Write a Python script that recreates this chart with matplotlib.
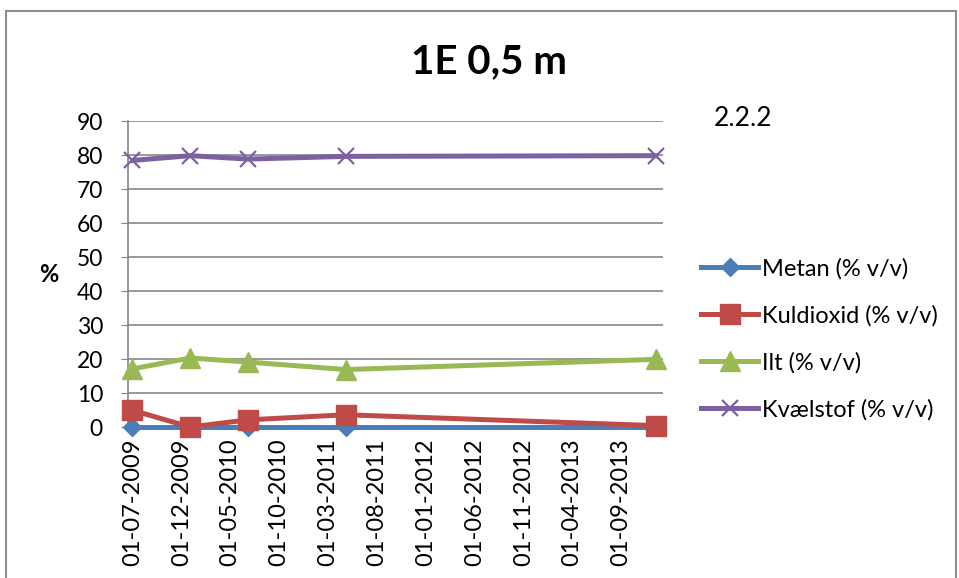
import matplotlib
matplotlib.use("Agg")
import matplotlib.pyplot as plt
import matplotlib.dates as mdates
from matplotlib.patches import Rectangle
import datetime as dt

plt.rcParams['font.family'] = ['Lato', 'DejaVu Sans']

# Sampling dates and gas concentrations (% v/v)
dates = [dt.date(2009, 7, 1), dt.date(2009, 12, 28), dt.date(2010, 6, 26),
         dt.date(2011, 4, 27), dt.date(2013, 12, 19)]
metan = [0.0, 0.0, 0.0, 0.0, 0.0]
kuldioxid = [4.9, 0.0, 2.1, 3.6, 0.4]
ilt = [17.1, 20.3, 19.1, 16.9, 19.9]
kvaelstof = [78.4, 79.8, 78.8, 79.6, 79.8]

series_names = ["Metan (% v/v)", "Kuldioxid (% v/v)", "Ilt (% v/v)", "Kvælstof (% v/v)"]
tick_dates = [dt.date(2009 + (6 + 5 * i) // 12, (6 + 5 * i) % 12 + 1, 1) for i in range(11)]
y_ticks = list(range(0, 100, 10))

title = "1E 0,5 m"
note = "2.2.2"

W, H = 959, 578
fig = plt.figure(figsize=(W / 100, H / 100), dpi=100)

# outer chart border
fig.patches.append(Rectangle((6 / W, -0.05), (956 - 6) / W, 1.05 - 11 / H,
                             transform=fig.transFigure, fill=False,
                             edgecolor='#8c8c8c', linewidth=1.5))

ax = fig.add_axes([128 / W, 1 - 427 / H, (663 - 128) / W, (427 - 121) / H])

styles = [
    dict(color='#4A7EBB', marker='D', markersize=9),
    dict(color='#BE4B48', marker='s', markersize=14),
    dict(color='#98B954', marker='^', markersize=15),
    dict(color='#7D60A0', marker='x', markersize=12, markeredgewidth=1.6),
]
for vals, name, st in zip([metan, kuldioxid, ilt, kvaelstof], series_names, styles):
    ax.plot(dates, vals, linewidth=3.6, label=name, clip_on=False, zorder=3, **st)

ax.set_ylim(0, 90)
ax.set_yticks(y_ticks)
ax.set_xlim(dt.date(2009, 6, 17), dt.date(2014, 1, 10))
ax.set_xticks(tick_dates)
ax.xaxis.set_major_formatter(mdates.DateFormatter('%d-%m-%Y'))
ax.tick_params(axis='x', rotation=90, labelsize=17, length=0, pad=8)
ax.tick_params(axis='y', labelsize=16.5, length=5, color='#868686', pad=13)

ax.grid(axis='y', color='#868686', linewidth=1.2)
ax.set_axisbelow(True)
for s in ['top', 'right', 'bottom']:
    ax.spines[s].set_visible(False)
ax.spines['left'].set_color('#868686')
ax.spines['left'].set_linewidth(1.2)

ax.set_ylabel('%', fontsize=17, fontweight='bold', rotation=0, labelpad=20, va='center')

fig.text(489 / W, 1 - 62 / H, title, fontsize=29, fontweight='bold', ha='center', va='center')
fig.text(743 / W, 1 - 118 / H, note, fontsize=19, ha='center', va='center')

ax.legend(loc='center left', bbox_to_anchor=(692 / W, 1 - 339 / H),
          bbox_transform=fig.transFigure, frameon=False, fontsize=17,
          handlelength=2.4, handletextpad=0.15, labelspacing=1.08, borderaxespad=0)

fig.savefig('out.png', dpi=100)
